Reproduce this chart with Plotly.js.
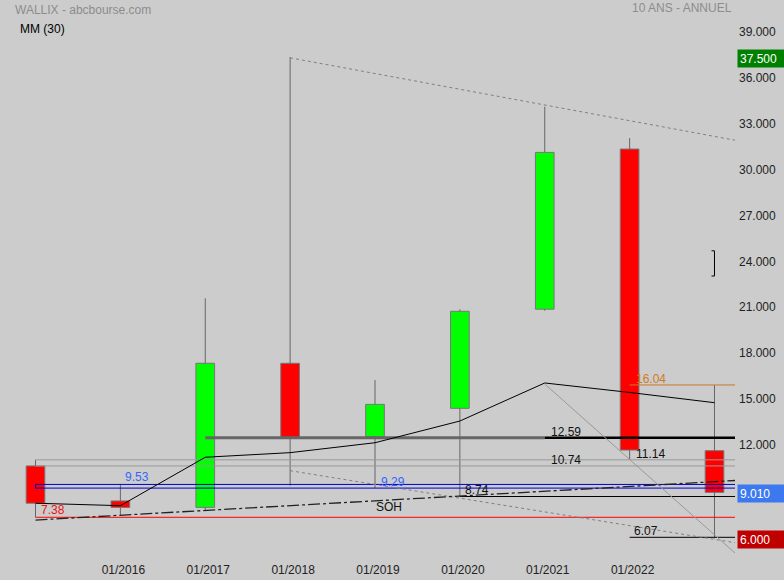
<!DOCTYPE html>
<html>
<head>
<meta charset="utf-8">
<script src="https://cdn.plot.ly/plotly-3.0.1.min.js"></script>
<style>html,body{margin:0;padding:0;background:#cccccc;}#chart{width:784px;height:580px;}</style>
</head>
<body>
<div id="chart"></div>
<script>
// ---- data ----
const years    = [2015, 2016, 2017, 2018, 2019, 2020, 2021, 2022, 2023];
const openV    = [10.74, 8.45, 8.03, 17.46, 12.65, 14.51, 21.00, 31.48, 11.74];
const highV    = [11.14, 9.53, 21.71, 37.50, 16.36, 20.99, 34.25, 32.20, 16.04];
const lowV     = [7.38, 7.50, 7.85, 9.45, 9.29, 8.74, 20.90, 11.14, 6.00];
const closeV   = [8.30, 8.02, 17.46, 12.61, 14.77, 20.86, 31.26, 11.78, 9.01];
const mm30     = [8.30, 8.14, 11.31, 11.61, 12.26, 13.68, 16.17, 15.55, 14.88];

const tickYears = [2016, 2017, 2018, 2019, 2020, 2021, 2022];
const tickText  = ['01/2016', '01/2017', '01/2018', '01/2019', '01/2020', '01/2021', '01/2022'];
const yTicks    = [12, 15, 18, 21, 24, 27, 30, 33, 36, 39];

// horizontal support / resistance levels
const levelValue    = [11.14, 10.74, 7.38, 8.74, 16.04, 6.07];
const levelFromYear = [2015, 2015, 2015, 2020, 2022, 2022];
const blueBand      = [9.53, 9.29];
const blueBandFrom  = 2015;
const thickLevel    = 12.59;
const thickFromYear = [2017, 2021];

// trend lines (two points each)
const trendTopX   = [2018, 2023.25], trendTopY   = [37.45, 32.05];
const trendLowX   = [2018, 2023.25], trendLowY   = [10.43, 5.71];
const trendDiagX  = [2021, 2023.25], trendDiagY  = [16.10, 5.00];
const trendSohX   = [2015, 2023.25], trendSohY   = [7.20, 9.79];
const bracketX    = [2022.965, 2023, 2023, 2022.965], bracketY = [24.82, 24.82, 23.17, 23.17];

const lastPrice = 9.01, periodHigh = 37.5, periodLow = 6.0;

// ---- build traces ----
const FONT = 'Arial, "Liberation Sans", Helvetica, sans-serif';
const END = 2023.3;
const traces = [];

// wicks (split around the body)
const wx = [], wy = [];
years.forEach((yr, i) => {
  const top = Math.max(openV[i], closeV[i]), bot = Math.min(openV[i], closeV[i]);
  if (highV[i] > top) { wx.push(yr, yr, null); wy.push(highV[i], top, null); }
  if (lowV[i] < bot)  { wx.push(yr, yr, null); wy.push(bot, lowV[i], null); }
});
traces.push({type: 'scatter', mode: 'lines', x: wx, y: wy, line: {color: '#666666', width: 1}, hoverinfo: 'skip'});

// bodies
traces.push({
  type: 'bar', x: years,
  base: years.map((_, i) => Math.min(openV[i], closeV[i])),
  y: years.map((_, i) => Math.abs(closeV[i] - openV[i])),
  width: 0.22,
  marker: {color: years.map((_, i) => closeV[i] >= openV[i] ? '#00ff00' : '#ff0000'),
           line: {color: '#777777', width: 1}},
  hoverinfo: 'skip'
});

const levelColors = ['#999999', '#999999', '#ff0000', '#000000', '#c8772e', '#000000'];
levelValue.forEach((v, k) => {
  traces.push({type: 'scatter', mode: 'lines', x: [levelFromYear[k], END], y: [v, v],
               line: {color: levelColors[k], width: 1}, hoverinfo: 'skip'});
});
traces.push({type: 'scatter', mode: 'lines',
  x: [END, blueBandFrom, blueBandFrom, END], y: [blueBand[0], blueBand[0], blueBand[1], blueBand[1]],
  line: {color: '#0000cc', width: 1}, hoverinfo: 'skip'});
traces.push({type: 'scatter', mode: 'lines', x: [thickFromYear[0], thickFromYear[1]], y: [thickLevel, thickLevel],
  line: {color: '#666666', width: 3}, hoverinfo: 'skip'});
traces.push({type: 'scatter', mode: 'lines', x: [thickFromYear[1], END], y: [thickLevel, thickLevel],
  line: {color: '#000000', width: 2.5}, hoverinfo: 'skip'});

traces.push({type: 'scatter', mode: 'lines', x: trendTopX, y: trendTopY,
  line: {color: '#808080', width: 1, dash: '3px,3px'}, hoverinfo: 'skip'});
traces.push({type: 'scatter', mode: 'lines', x: trendLowX, y: trendLowY,
  line: {color: '#808080', width: 1, dash: '3px,3px'}, hoverinfo: 'skip'});
traces.push({type: 'scatter', mode: 'lines', x: trendDiagX, y: trendDiagY,
  line: {color: '#999999', width: 1}, hoverinfo: 'skip'});
traces.push({type: 'scatter', mode: 'lines', x: trendSohX, y: trendSohY,
  line: {color: '#222222', width: 1.3, dash: '12px,3px,3px,3px'}, hoverinfo: 'skip'});
traces.push({type: 'scatter', mode: 'lines', x: bracketX, y: bracketY,
  line: {color: '#000000', width: 1}, hoverinfo: 'skip'});

// moving average
traces.push({type: 'scatter', mode: 'lines', x: years, y: mm30,
  line: {color: '#000000', width: 1}, hoverinfo: 'skip'});

// ---- annotations ----
const yPix = 555;
const xPix = 735;
function lab(text, x, y, color, xs, ys) {
  return {text: text, x: x, y: y, xref: 'x', yref: 'y', xanchor: 'left', yanchor: 'middle',
          xshift: xs, yshift: ys, showarrow: false, borderpad: 0,
          font: {family: FONT, size: 12, color: color}};
}
const sohY = trendSohY[0] + (trendSohY[1] - trendSohY[0]) * (2019 - trendSohX[0]) / (trendSohX[1] - trendSohX[0]);
const annotations = [
  lab(thickLevel.toFixed(2), 2021, thickLevel, '#111111', 5, 6),
  lab(levelValue[1].toFixed(2), 2021, levelValue[1], '#111111', 5, 6),
  lab(levelValue[0].toFixed(2), 2022, levelValue[0], '#111111', 5, 6),
  lab(levelValue[4].toFixed(2), 2022, levelValue[4], '#d07a20', 5, 6),
  lab(levelValue[5].toFixed(2), 2022, levelValue[5], '#111111', 3, 6),
  lab(blueBand[0].toFixed(2), 2016, blueBand[0], '#3366ff', 4, 7),
  lab(levelValue[2].toFixed(2), 2015, levelValue[2], '#ee1111', 4, 7),
  lab(blueBand[1].toFixed(2), 2019, blueBand[1], '#3366ff', 5, 6),
  lab(levelValue[3].toFixed(2), 2020, levelValue[3], '#111111', 4, 6.5),
  lab('SOH', 2019, sohY, '#111111', 0, -6),
  {text: 'WALLIX - abcbourse.com', xref: 'paper', yref: 'paper', x: 14 / xPix, y: 1 - 9.5 / yPix,
   xanchor: 'left', yanchor: 'middle', showarrow: false, borderpad: 0,
   font: {family: FONT, size: 12, color: '#8c8c8c'}},
  {text: '10 ANS - ANNUEL', xref: 'paper', yref: 'paper', x: 733 / xPix, y: 1 - 8.5 / yPix,
   xanchor: 'right', yanchor: 'middle', showarrow: false, borderpad: 0,
   font: {family: FONT, size: 12, color: '#8c8c8c'}},
  {text: 'MM (30)', xref: 'paper', yref: 'paper', x: 19 / xPix, y: 1 - 29 / yPix,
   xanchor: 'left', yanchor: 'middle', showarrow: false, borderpad: 0,
   font: {family: FONT, size: 12, color: '#000000'}}
];
function box(v, bg) {
  return {text: v.toFixed(3), xref: 'paper', yref: 'y', x: 1, y: v, xanchor: 'left', yanchor: 'middle',
          xshift: 2, yshift: -1.5, showarrow: false, bgcolor: bg, width: 43, height: 13, borderpad: 2,
          align: 'left', font: {family: FONT, size: 12, color: '#ffffff'}};
}
annotations.push(box(periodHigh, '#008000'), box(lastPrice, '#3c78f0'), box(periodLow, '#c00000'));

const layout = {
  width: 784, height: 580,
  margin: {l: 0, r: 49, t: 0, b: 25, pad: 0},
  paper_bgcolor: '#cccccc', plot_bgcolor: '#cccccc',
  showlegend: false, bargap: 0,
  font: {family: FONT, size: 12, color: '#222222'},
  xaxis: {range: [2014.5817, 2023.2416], tickvals: tickYears, ticktext: tickText,
          showgrid: false, zeroline: false, showline: false, ticks: '', ticklabelshift: 3,
          ticklabelstandoff: 6,
          tickfont: {family: FONT, size: 12, color: '#222222'}},
  yaxis: {range: [4.912, 41.234], side: 'right', tickvals: yTicks, tickformat: '.3f',
          showgrid: false, zeroline: false, showline: false, ticks: '', ticklabelshift: -2,
          ticklabelstandoff: 3,
          tickfont: {family: FONT, size: 12, color: '#222222'}},
  annotations: annotations
};

Plotly.newPlot('chart', traces, layout, {staticPlot: true, displayModeBar: false});
</script>
</body>
</html>
